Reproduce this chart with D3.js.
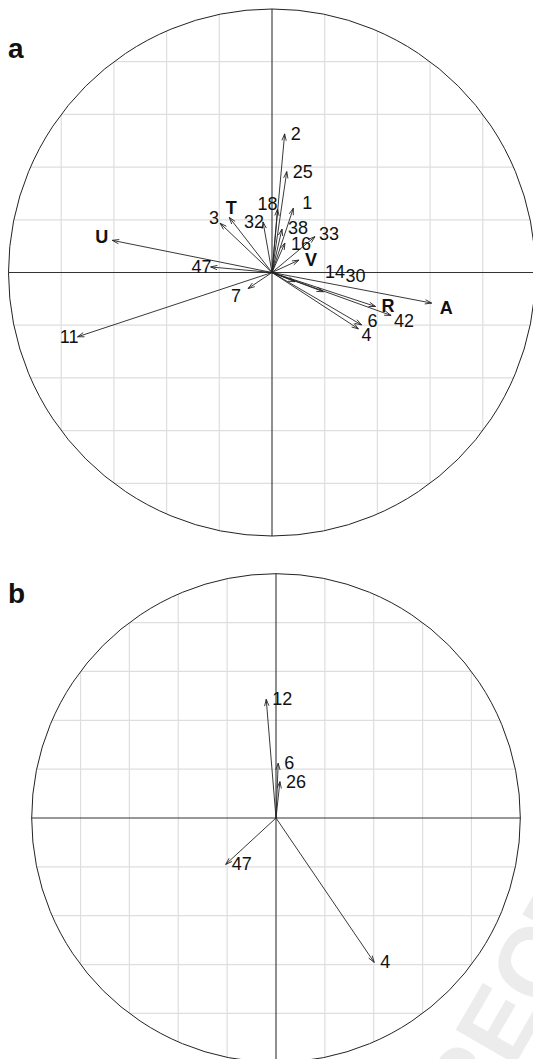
<!DOCTYPE html>
<html>
<head>
<meta charset="utf-8">
<script src="https://cdn.jsdelivr.net/npm/d3@7"></script>
<style>
  body { margin: 0; background: #fff; }
  svg { display: block; }
</style>
</head>
<body>
<script>
// DATA - panel a (correlation circle, axes 1-2)
var namesA = ["2", "25", "1", "18", "32", "38", "16", "33", "V", "3", "T", "U", "47", "7", "11", "14", "30", "R", "42", "A", "6", "4"];
var xA = [0.048, 0.056, 0.081, 0.021, -0.034, 0.038, 0.049, 0.163, 0.102, -0.197, -0.162, -0.606, -0.233, -0.091, -0.738, 0.087, 0.195, 0.393, 0.452, 0.606, 0.340, 0.328];
var yA = [0.526, 0.383, 0.244, 0.241, 0.192, 0.165, 0.112, 0.136, 0.047, 0.187, 0.209, 0.122, 0.021, -0.061, -0.244, -0.035, -0.073, -0.129, -0.163, -0.116, -0.199, -0.214];

// DATA - panel b
var namesB = ["12", "6", "26", "47", "4"];
var xB = [-0.040, 0.009, 0.016, -0.206, 0.402];
var yB = [0.486, 0.224, 0.149, -0.190, -0.591];

// grid ticks
var gridTicks = [-0.8, -0.6, -0.4, -0.2, 0.2, 0.4, 0.6, 0.8];
var boldNames = ["T", "U", "V", "R", "A"];

var W = 533, H = 1059;

var svg = d3.select("body").append("svg")
  .attr("width", W)
  .attr("height", H);

// watermark
svg.append("text")
  .attr("transform", "translate(292.6,1450) rotate(-60)")
  .style("font-family", "Liberation Sans, Arial, sans-serif")
  .style("font-weight", 700)
  .style("font-size", "100px")
  .style("fill", "#ececec")
  .text("UNCORRECTED PROOF");

// label nudges for panel a (anchor, dx, dy in pixels, where labels were moved apart)
var nudgeA = {
  "T": ["middle", 2, -9],
  "7": ["end", -8, 7],
  "18": ["end", -1, -5],
  "14": ["start", 24, -10],
  "30": ["start", 16, -16],
  "38": ["start", 0, -1],
  "16": ["start", 0, 1],
  "6": ["start", 0, -4],
  "4": ["start", -3, 6],
  "42": ["start", -3, 6],
  "A": ["start", 2, 5],
  "U": ["end", -5, -3],
  "3": ["end", -2, -5],
  "1": ["start", 3, -5],
  "33": ["start", -2, -3]
};

function drawPanel(cx, cy, r, names, xs, ys, fontSize, letter, letterY, panelId) {
  var x = d3.scaleLinear().domain([-1, 1]).range([cx - r, cx + r]);
  var y = d3.scaleLinear().domain([-1, 1]).range([cy + r, cy - r]);
  var g = svg.append("g").attr("class", "panel" + panelId);

  //grid (clipped to the circle)
  gridTicks.forEach(function(t) {
    var span = Math.sqrt(1 - t * t);
    g.append("line")
      .attr("x1", x(t)).attr("x2", x(t))
      .attr("y1", y(-span)).attr("y2", y(span))
      .attr("stroke", "#dedede")
      .attr("stroke-width", 1.2);
    g.append("line")
      .attr("x1", x(-span)).attr("x2", x(span))
      .attr("y1", y(t)).attr("y2", y(t))
      .attr("stroke", "#dedede")
      .attr("stroke-width", 1.2);
  });

  //axes
  g.append("line")
    .attr("x1", x(-1)).attr("x2", x(1))
    .attr("y1", y(0)).attr("y2", y(0))
    .attr("stroke", "#333")
    .attr("stroke-width", 1.1);
  g.append("line")
    .attr("x1", x(0)).attr("x2", x(0))
    .attr("y1", y(-1)).attr("y2", y(1))
    .attr("stroke", "#333")
    .attr("stroke-width", 1.1);

  //circle
  g.append("circle")
    .attr("cx", x(0))
    .attr("cy", y(0))
    .attr("r", x(1) - x(0))
    .attr("fill", "none")
    .attr("stroke", "#222")
    .attr("stroke-width", 1);

  var data = names.map(function(n, i) { return {name: n, x: xs[i], y: ys[i]}; });

  //arrows
  var headLen = 7, headAng = 18 * Math.PI / 180;
  g.selectAll(".arrow")
    .data(data)
    .enter().append("path")
    .attr("class", "arrow")
    .attr("fill", "none")
    .attr("stroke", "#222")
    .attr("stroke-width", 0.9)
    .attr("d", function(d) {
      var x0 = x(0), y0 = y(0), x1 = x(d.x), y1 = y(d.y);
      var a = Math.atan2(y1 - y0, x1 - x0);
      var hx1 = x1 - headLen * Math.cos(a - headAng), hy1 = y1 - headLen * Math.sin(a - headAng);
      var hx2 = x1 - headLen * Math.cos(a + headAng), hy2 = y1 - headLen * Math.sin(a + headAng);
      return "M" + x0 + "," + y0 + "L" + x1 + "," + y1 +
        "M" + hx1 + "," + hy1 + "L" + x1 + "," + y1 + "L" + hx2 + "," + hy2;
    });

  //labels
  g.selectAll(".lab")
    .data(data)
    .enter().append("text")
    .attr("class", "lab")
    .style("font-family", "Liberation Sans, Arial, sans-serif")
    .style("font-size", fontSize + "px")
    .style("font-weight", function(d) { return boldNames.indexOf(d.name) >= 0 ? 700 : 400; })
    .style("fill", "#111")
    .attr("dominant-baseline", "central")
    .each(function(d) {
      var anchor, px, py = y(d.y);
      if (panelId == "b" || d.x >= 0) { anchor = "start"; px = x(d.x) + 6; }
      else { anchor = "end"; px = x(d.x) + 1; }
      if (panelId == "a" && nudgeA[d.name]) {
        var nd = nudgeA[d.name];
        anchor = nd[0];
        if (anchor == "middle") px = x(d.x) + nd[1];
        else if (anchor == "end") px = x(d.x) + 1 + nd[1];
        else px = x(d.x) + 6 + nd[1];
        py = y(d.y) + nd[2];
      }
      d3.select(this)
        .attr("x", px)
        .attr("y", py)
        .attr("text-anchor", anchor);
    })
    .text(function(d) { return d.name; });

  //panel letter
  svg.append("text")
    .attr("x", 8)
    .attr("y", letterY)
    .style("font-family", "Liberation Sans, Arial, sans-serif")
    .style("font-weight", 700)
    .style("font-size", "28px")
    .style("fill", "#111")
    .text(letter);
}

drawPanel(272, 272.5, 263.5, namesA, xA, yA, 18, "a", 58, "a");
drawPanel(276, 818, 244.3, namesB, xB, yB, 18, "b", 603, "b");
</script>
</body>
</html>
